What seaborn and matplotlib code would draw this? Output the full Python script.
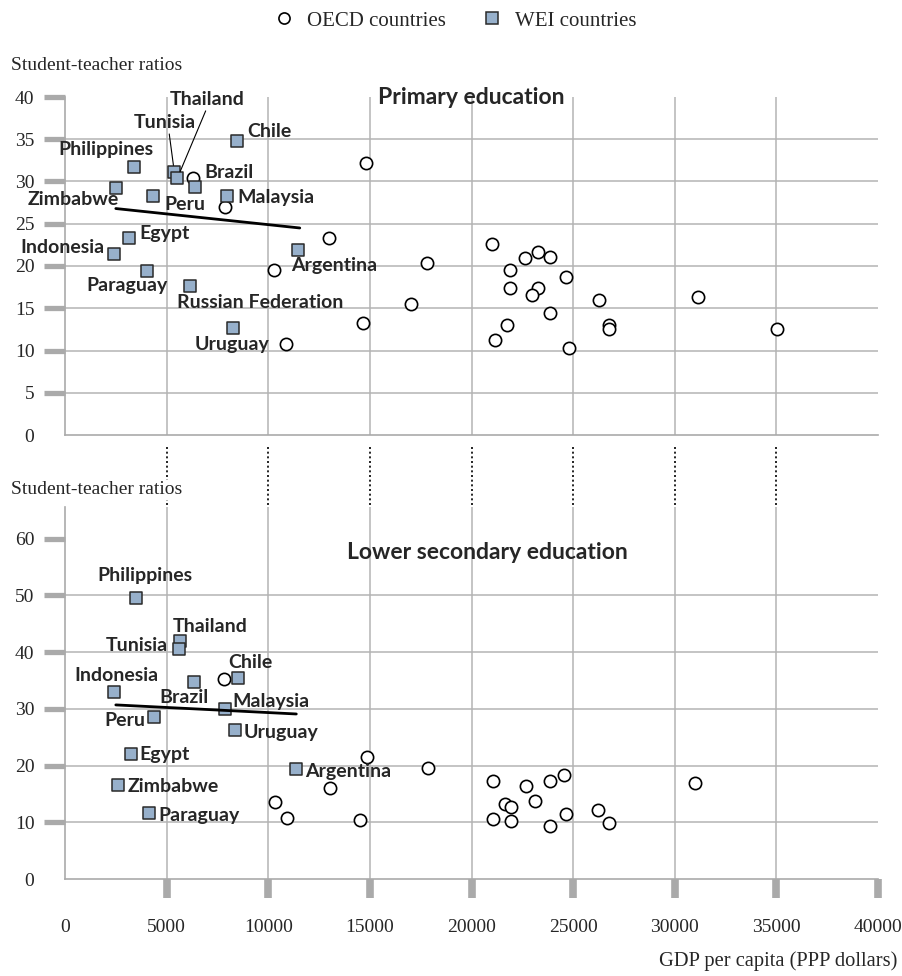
# -*- coding: utf-8 -*-
"""
STUDENT-TEACHER RATIOS VS GDP PER CAPITA
"""

import matplotlib
matplotlib.use("Agg")
import matplotlib.pyplot as plt
import seaborn as sns
from matplotlib.lines import Line2D

# --- DATA: primary education
prim_wei_country = ['Philippines', 'Zimbabwe', 'Peru', 'Tunisia', 'Thailand', 'Brazil', 'Chile',
                    'Malaysia', 'Egypt', 'Indonesia', 'Paraguay', 'Russian Federation',
                    'Argentina', 'Uruguay']
prim_wei_gdp = [3400, 2500, 4330, 5380, 5530, 6400, 8440, 7950, 3140, 2390, 4030, 6150, 11470, 8280]
prim_wei_ratio = [31.7, 29.2, 28.3, 31.1, 30.4, 29.4, 34.8, 28.3, 23.3, 21.4, 19.4, 17.6, 21.9, 12.7]

prim_oecd_gdp = [6320, 7860, 14810, 12980, 10270, 17830, 17030, 14640, 10860,
                 21000, 21900, 22620, 23250, 23870, 24630, 21900, 23290, 22980, 23880,
                 21730, 21170, 24810, 26290, 26750, 26750, 31150, 35050]
prim_oecd_ratio = [30.4, 27.0, 32.2, 23.3, 19.5, 20.3, 15.5, 13.3, 10.8,
                   22.6, 19.5, 20.9, 21.7, 21.1, 18.7, 17.4, 17.4, 16.6, 14.4,
                   13.0, 11.2, 10.3, 16.0, 13.0, 12.5, 16.3, 12.5]

prim_trend_gdp = [2500, 11550]
prim_trend_ratio = [26.8, 24.5]

# --- DATA: lower secondary education
sec_wei_country = ['Philippines', 'Thailand', 'Tunisia', 'Indonesia', 'Brazil', 'Chile',
                   'Malaysia', 'Peru', 'Uruguay', 'Egypt', 'Argentina', 'Zimbabwe', 'Paraguay']
sec_wei_gdp = [3490, 5640, 5590, 2420, 6370, 8490, 7860, 4380, 8340, 3230, 11350, 2630, 4130]
sec_wei_ratio = [49.5, 41.9, 40.6, 33.0, 34.7, 35.4, 30.0, 28.5, 26.2, 22.1, 19.4, 16.5, 11.6]

sec_oecd_gdp = [7810, 10310, 10900, 13050, 14520, 14840, 17870,
                21050, 21670, 21940, 21050, 21940, 22670, 23110, 23870,
                24560, 24640, 23870, 26210, 26770, 31010]
sec_oecd_ratio = [35.2, 13.6, 10.8, 16.0, 10.4, 21.6, 19.5,
                  17.2, 13.2, 12.7, 10.5, 10.3, 16.4, 13.8, 17.3,
                  18.4, 11.5, 9.4, 12.1, 9.9, 16.9]

sec_trend_gdp = [2500, 11380]
sec_trend_ratio = [30.7, 29.1]

gdp_ticks = list(range(0, 40001, 5000))

# label offsets in pixels (dx, dy) from each square
prim_offsets = {'Philippines': (-28, 18), 'Zimbabwe': (-43, -11), 'Peru': (32, -9),
                'Tunisia': (-10, 50), 'Thailand': (30, 79), 'Brazil': (34, 14),
                'Chile': (33, 9), 'Malaysia': (49, -2), 'Egypt': (36, 5),
                'Indonesia': (-51, 7), 'Paraguay': (-20, -14), 'Russian Federation': (70, -16),
                'Argentina': (36, -16), 'Uruguay': (-1, -17)}
sec_offsets = {'Philippines': (9, 23), 'Thailand': (31, 15), 'Tunisia': (-42, 3),
               'Chile': (13, 16), 'Indonesia': (2, 16), 'Brazil': (-10, -15),
               'Malaysia': (46, 7), 'Peru': (-29, -3), 'Uruguay': (46, -2),
               'Egypt': (34, -1), 'Argentina': (52, -3), 'Zimbabwe': (55, -1),
               'Paraguay': (50, -2)}
leaders = {'Tunisia': (0.57, 0.05), 'Thailand': (0.5, 0.05)}

SERIF = 'Liberation Serif'
SANS = 'Lato'
GRID = '#b4b4b4'
TICK = '#aaaaaa'
WEI_FILL = '#97b0cb'

sns.set_style("white")
plt.rcParams['font.family'] = SERIF

W, H = 903, 976
fig = plt.figure(figsize=(W / 100, H / 100), dpi=100)
ax1 = fig.add_axes([65 / W, 1 - 435 / H, 813 / W, 338 / H])
ax2 = fig.add_axes([65 / W, 1 - 879 / H, 813 / W, 372 / H])


def draw_panel(ax, oecd_x, oecd_y, wei_x, wei_y, tr_x, tr_y, names, offsets, ymax, yt):
    ax.set_xlim(0, 40000)
    ax.set_ylim(0, ymax)
    for v in yt[1:-1]:
        ax.axhline(v, color=GRID, lw=1.1, zorder=0)
    for g in gdp_ticks[1:-1]:
        ax.axvline(g, color=GRID, lw=1.1, zorder=0)

    sns.scatterplot(x=oecd_x, y=oecd_y, ax=ax, marker='o', s=78, color='white',
                    edgecolor='black', linewidth=1.2, zorder=3)
    sns.scatterplot(x=wei_x, y=wei_y, ax=ax, marker='s', s=72, color=WEI_FILL,
                    edgecolor='#2a2a2a', linewidth=1.1, zorder=4)
    sns.lineplot(x=tr_x, y=tr_y, ax=ax, color='black', lw=2.0, zorder=5)

    for name, gx, gy in zip(names, wei_x, wei_y):
        dx, dy = offsets[name]
        kw = {}
        if name in leaders and ax is ax1:
            kw['arrowprops'] = dict(arrowstyle='-', color='black', lw=0.8,
                                    relpos=leaders[name], shrinkA=0, shrinkB=5)
        ax.annotate(name, (gx, gy), xytext=(dx, dy), textcoords='offset pixels',
                    ha='center', va='center', fontsize=14, fontweight='bold',
                    family=SANS, zorder=6, **kw)

    ax.set_yticks(yt)
    ax.set_yticklabels([str(v) for v in yt], fontsize=14, family=SERIF)
    ax.tick_params(axis='y', left=True, length=15, width=3.8, color=TICK, pad=7)
    ax.yaxis.get_major_ticks()[0].tick1line.set_visible(False)
    for s in ['top', 'right']:
        ax.spines[s].set_visible(False)
    for s in ['left', 'bottom']:
        ax.spines[s].set_color(TICK)
        ax.spines[s].set_linewidth(1.2)
    ax.set_xlabel('')
    ax.set_ylabel('')


draw_panel(ax1, prim_oecd_gdp, prim_oecd_ratio, prim_wei_gdp, prim_wei_ratio,
           prim_trend_gdp, prim_trend_ratio, prim_wei_country, prim_offsets, 40,
           list(range(0, 41, 5)))
draw_panel(ax2, sec_oecd_gdp, sec_oecd_ratio, sec_wei_gdp, sec_wei_ratio,
           sec_trend_gdp, sec_trend_ratio, sec_wei_country, sec_offsets, 65.6,
           list(range(0, 61, 10)))

# top panel: no tick labels, dotted drop lines
ax1.set_xticks(gdp_ticks)
ax1.set_xticklabels([])
ax1.tick_params(axis='x', bottom=False, length=0)
ax1.vlines(gdp_ticks[1:-1], -0.035, -0.215, transform=ax1.get_xaxis_transform(),
           colors='black', linestyles=(0, (1.2, 1.6)), lw=1.2, clip_on=False, zorder=1)

# bottom panel x axis
ax2.set_xticks(gdp_ticks)
ax2.set_xticklabels([str(g) for g in gdp_ticks], fontsize=14, family=SERIF)
ax2.tick_params(axis='x', bottom=True, length=14, width=5.5, color=TICK, pad=15)
ax2.xaxis.get_major_ticks()[0].tick1line.set_visible(False)

# titles
ax1.text(0.5, 1.0, 'Primary education', transform=ax1.transAxes, ha='center', va='center',
         fontsize=16.5, fontweight='bold', family=SANS, zorder=7)
ax2.text(0.52, 0.879, 'Lower secondary education', transform=ax2.transAxes, ha='center',
         va='center', fontsize=16.5, fontweight='bold', family=SANS, zorder=7)

# axis captions
fig.text(11 / W, 1 - 65 / H, 'Student-teacher ratios', ha='left', va='center',
         fontsize=14, family=SERIF)
fig.text(11 / W, 1 - 490 / H, 'Student-teacher ratios', ha='left', va='center',
         fontsize=14, family=SERIF, zorder=10,
         bbox=dict(facecolor='white', edgecolor='none', pad=1))
fig.text(897 / W, 1 - 961 / H, 'GDP per capita (PPP dollars)', ha='right', va='center',
         fontsize=14.8, family=SERIF)

# legend
handles = [Line2D([], [], marker='o', ls='', mfc='white', mec='black', mew=1.2, ms=8),
           Line2D([], [], marker='s', ls='', mfc=WEI_FILL, mec='#2a2a2a', mew=1.1, ms=8)]
fig.legend(handles, ['OECD countries', 'WEI countries'], loc='center',
           bbox_to_anchor=(450 / W, 1 - 21 / H), ncol=2, frameon=False,
           prop={'family': SERIF, 'size': 15}, handletextpad=0.1, columnspacing=1.2)

plt.savefig("out.png", dpi=100)
